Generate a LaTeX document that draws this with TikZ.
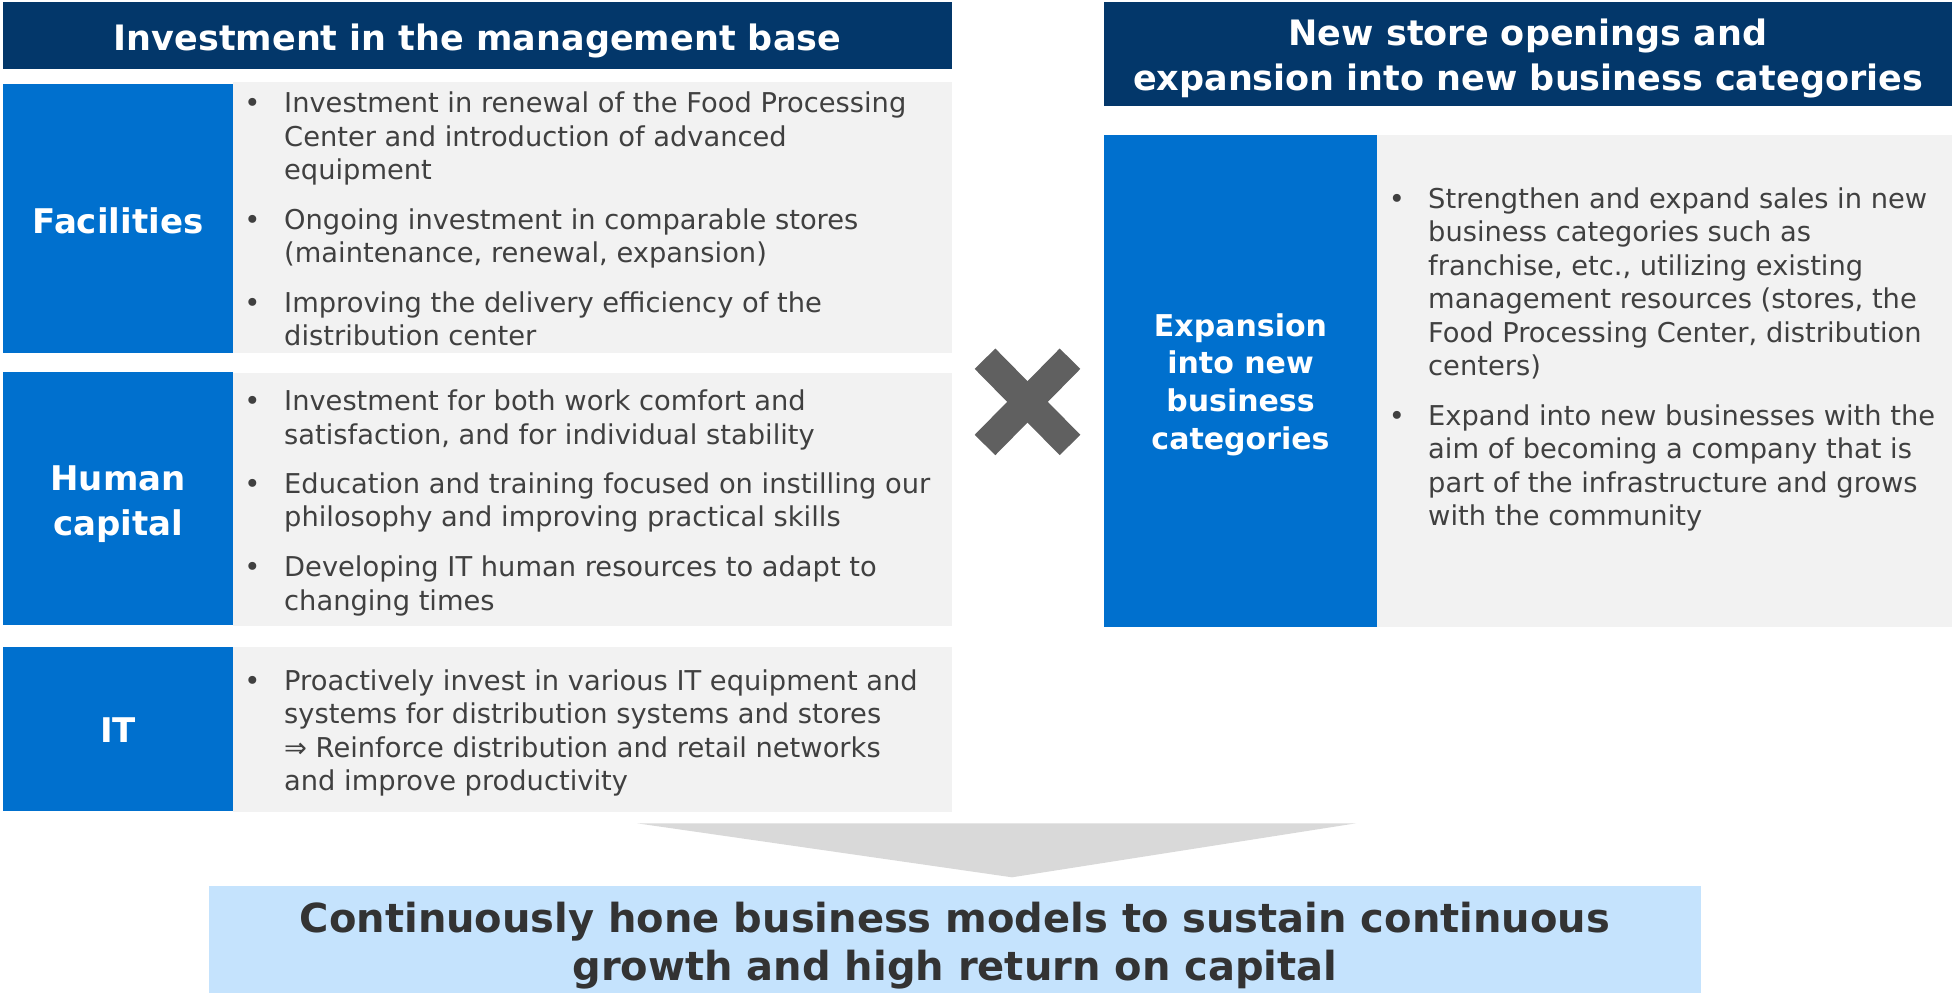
\documentclass[tikz,border=0pt]{standalone}
\usepackage{fontspec}
\setmainfont{DejaVu Sans}
\definecolor{navy}{HTML}{03376A}
\definecolor{mblue}{HTML}{0070CE}
\definecolor{lgray}{HTML}{F2F2F2}
\definecolor{txt}{HTML}{404040}
\definecolor{xgray}{HTML}{606060}
\definecolor{trig}{HTML}{D9D9D9}
\definecolor{lblue}{HTML}{C5E3FD}
\definecolor{btxt}{HTML}{333333}
\tikzset{
  hdr/.style={font=\fontsize{35}{44.8}\selectfont\bfseries, text=white, align=center, inner sep=0, anchor=base},
  lbl/.style={font=\fontsize{34}{44.3}\selectfont\bfseries, text=white, align=center, inner sep=0, anchor=base},
  rlbl/.style={font=\fontsize{30}{37.9}\selectfont\bfseries, text=white, align=center, inner sep=0, anchor=base},
  body/.style={font=\fontsize{27.3}{33.5}\selectfont, text=txt, align=left, inner sep=0, anchor=base west},
  bul/.style={font=\fontsize{27.3}{33.5}\selectfont, text=txt, inner sep=0, anchor=base},
  goal/.style={font=\fontsize{40}{47.3}\selectfont\bfseries, text=btxt, align=center, inner sep=0, anchor=base},
}
\begin{document}
\begin{tikzpicture}[x=1pt,y=-1pt]
\useasboundingbox (0,0) rectangle (1952,993);
% left header
\fill[navy] (3,2) rectangle (952,69);
\node[hdr] (lh) at (477.5,50) {Investment in the management base};
% facilities (multi-line nodes are placed by their last baseline)
\fill[lgray] (233,82) rectangle (952,353);
\fill[mblue] (3,84) rectangle (233,353);
\node[lbl] (fac) at (118,233.3) {Facilities};
\node[bul] (fb1) at (252.5,112) {•};
\node[body] (ft1) at (284,179.5) {Investment in renewal of the Food Processing\\Center and introduction of advanced\\equipment};
\node[bul] (fb2) at (252.5,229.3) {•};
\node[body] (ft2) at (284,262.8) {Ongoing investment in comparable stores\\(maintenance, renewal, expansion)};
\node[bul] (fb3) at (252.5,312) {•};
\node[body] (ft3) at (284,345.5) {Improving the delivery efficiency of the\\distribution center};
% human capital
\fill[lgray] (233,373) rectangle (952,626);
\fill[mblue] (3,372) rectangle (233,625);
\node[lbl] (hum) at (118,535) {Human\\capital};
\node[bul] (hb1) at (252.5,410.5) {•};
\node[body] (ht1) at (284,444) {Investment for both work comfort and\\satisfaction, and for individual stability};
\node[bul] (hb2) at (252.5,493.2) {•};
\node[body] (ht2) at (284,526.7) {Education and training focused on instilling our\\philosophy and improving practical skills};
\node[bul] (hb3) at (252.5,576.5) {•};
\node[body] (ht3) at (284,610) {Developing IT human resources to adapt to\\changing times};
% IT
\fill[lgray] (233,647) rectangle (952,812);
\fill[mblue] (3,647) rectangle (233,811);
\node[lbl] (it) at (118,742.7) {IT};
\node[bul] (ib1) at (252.5,690.2) {•};
\node[body] (it1) at (284,790.7) {Proactively invest in various IT equipment and\\systems for distribution systems and stores\\⇒ Reinforce distribution and retail networks\\and improve productivity};
% cross
\draw[xgray, line width=29pt, line cap=butt] (985,358.7) -- (1070,445);
\draw[xgray, line width=29pt, line cap=butt] (1070,358.7) -- (985,445);
% right header
\fill[navy] (1104,2) rectangle (1952,106);
\node[hdr] (rh) at (1528,90.5) {New store openings and\\expansion into new business categories};
% right box
\fill[lgray] (1377,135) rectangle (1952,627);
\fill[mblue] (1104,135) rectangle (1377,627);
\node[rlbl] (exp) at (1240.5,449.7) {Expansion\\into new\\business\\categories};
\node[bul] (rb1) at (1397,208.4) {•};
\node[body] (rt1) at (1428,375.9) {Strengthen and expand sales in new\\business categories such as\\franchise, etc., utilizing existing\\management resources (stores, the\\Food Processing Center, distribution\\centers)};
\node[bul] (rb2) at (1397,425.4) {•};
\node[body] (rt2) at (1428,525.9) {Expand into new businesses with the\\aim of becoming a company that is\\part of the infrastructure and grows\\with the community};
% arrow triangle
\fill[trig] (637,823.3) -- (1356,823.3) -- (1012,877.3) -- cycle;
% goal
\fill[lblue] (209,886) rectangle (1701,993);
\node[goal] (goal) at (955,980) {Continuously hone business models to sustain continuous\\growth and high return on capital};
\end{tikzpicture}
\end{document}
